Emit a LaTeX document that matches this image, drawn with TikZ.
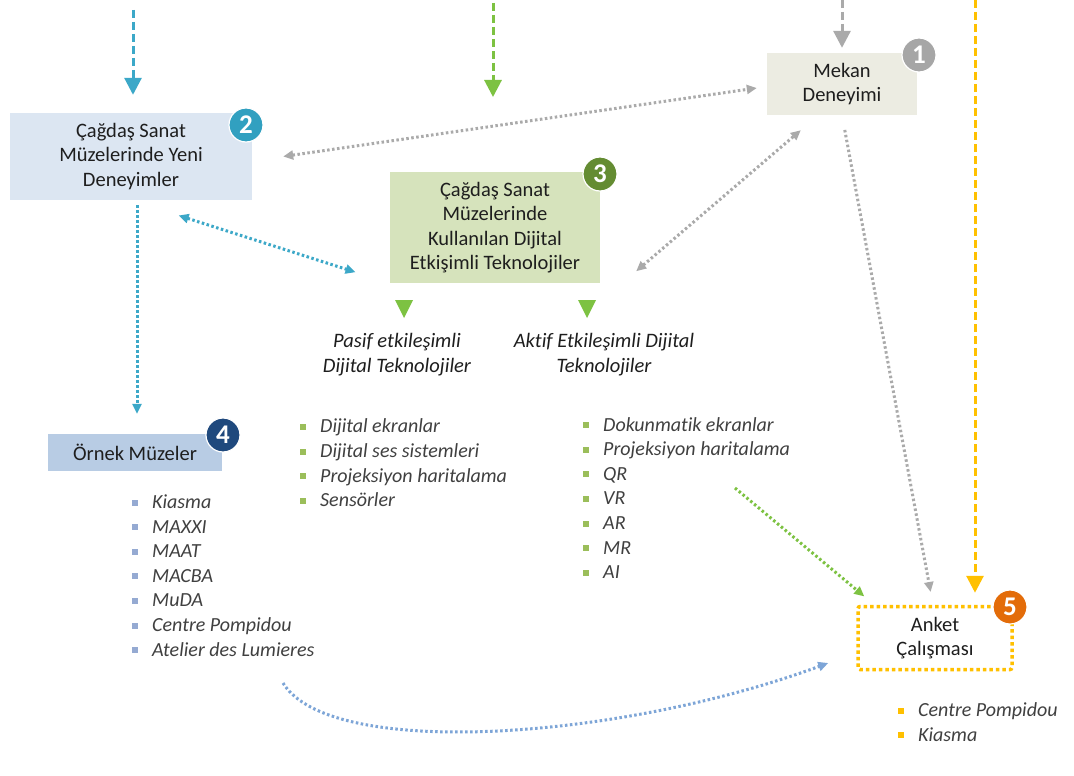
\documentclass[tikz,border=0pt]{standalone}
\usepackage{fontspec}
\setmainfont{Carlito}[Ligatures=NoCommon]
\usetikzlibrary{positioning,arrows.meta,calc}

\definecolor{txtdark}{RGB}{30,30,30}
\definecolor{txtgrey}{RGB}{64,64,64}
\definecolor{tealc}{RGB}{60,168,200}
\definecolor{greenc}{RGB}{125,194,66}
\definecolor{greyc}{RGB}{170,170,170}
\definecolor{yellowc}{RGB}{255,192,0}
\definecolor{bluec}{RGB}{125,165,215}
\definecolor{fillmekan}{RGB}{236,236,226}
\definecolor{fillyeni}{RGB}{220,230,242}
\definecolor{filldijital}{RGB}{214,227,188}
\definecolor{fillornek}{RGB}{184,204,228}
\definecolor{badgegrey}{RGB}{166,166,166}
\definecolor{badgeteal}{RGB}{49,160,192}
\definecolor{badgegreen}{RGB}{100,140,50}
\definecolor{badgeblue}{RGB}{31,73,125}
\definecolor{badgeorange}{RGB}{227,108,9}
\definecolor{bltgreen}{RGB}{155,190,90}
\definecolor{bltblue}{RGB}{149,170,210}

\newcommand{\sqb}[1]{\textcolor{#1}{\rule[0.15em]{6pt}{6pt}}\hspace{14pt}}

\begin{document}
\begin{tikzpicture}[x=1pt,y=1pt,yscale=-1,
    box/.style={align=center, inner sep=0pt, text=txtdark, font=\fontsize{20.5}{24.5}\selectfont},
    badge/.style={circle, draw=white, line width=1.2pt, inner sep=0pt, minimum size=34pt, text=white, font=\fontsize{27}{27}\selectfont\bfseries},
    heading/.style={align=center, inner sep=0pt, text=txtdark, font=\fontsize{20.5}{25}\selectfont\itshape},
    itemlist/.style={align=left, inner sep=0pt, anchor=west, text=txtgrey, font=\fontsize{20}{24.6}\selectfont\itshape},
    dasharrow/.style={line width=3pt, dash pattern=on 8pt off 4pt, -{Triangle[length=17pt,width=17pt]}},
    dotarrow/.style={line width=3pt, dash pattern=on 2.5pt off 2.5pt, -{Triangle[length=10pt,width=9pt]}},
    dotboth/.style={line width=3pt, dash pattern=on 2.5pt off 2.5pt, {Triangle[length=10pt,width=9pt]}-{Triangle[length=10pt,width=9pt]}}]
\path[use as bounding box, fill=white] (0,0) rectangle (1074,776);

% Boxes
\node[box, fill=fillmekan, minimum width=150pt, minimum height=62pt] (mekan) at (842,84) {Mekan\\Deneyimi};
\node[box, fill=fillyeni, minimum width=242pt, minimum height=87pt] (yeni) at (131,156.5) {Çağdaş Sanat\\Müzelerinde Yeni\\Deneyimler};
\node[box, fill=filldijital, minimum width=210pt, minimum height=111pt] (dijital) at (495,227.5) {Çağdaş Sanat\\Müzelerinde\\Kullanılan Dijital\\Etkişimli Teknolojiler};
\node[box, fill=fillornek, minimum width=174pt, minimum height=37pt] (ornek) at (135,452.5) {Örnek Müzeler};
\node[box, draw=yellowc, line width=3.5pt, dash pattern=on 3.5pt off 3pt, rounded corners=2pt, minimum width=154pt, minimum height=63pt] (anket) at (935,638) {Anket\\Çalışması};

% Badges
\node[badge, fill=badgegrey] (b1) at (919,55) {1};
\node[badge, fill=badgeteal] (b2) at (246,125) {2};
\node[badge, fill=badgegreen] (b3) at (600,174) {3};
\node[badge, fill=badgeblue] (b4) at (223,435) {4};
\node[badge, fill=badgeorange] (b5) at (1010,607) {5};

% Sub headings
\node[heading] (pasif) at (397,355) {Pasif etkileşimli\\Dijital Teknolojiler};
\node[heading] (aktif) at (604,355) {Aktif Etkileşimli Dijital\\Teknolojiler};
\fill[greenc] (395,300) -- (413,300) -- (404,318) -- cycle;
\fill[greenc] (578,300) -- (596,300) -- (587,318) -- cycle;

% Lists
\node[itemlist] (pasiflist) at (300,463) {\sqb{bltgreen}Dijital ekranlar\\\sqb{bltgreen}Dijital ses sistemleri\\\sqb{bltgreen}Projeksiyon haritalama\\\sqb{bltgreen}Sensörler};
\node[itemlist] (aktiflist) at (583,498) {\sqb{bltgreen}Dokunmatik ekranlar\\\sqb{bltgreen}Projeksiyon haritalama\\\sqb{bltgreen}QR\\\sqb{bltgreen}VR\\\sqb{bltgreen}AR\\\sqb{bltgreen}MR\\\sqb{bltgreen}AI};
\node[itemlist] (ornekl) at (132,575.5) {\sqb{bltblue}Kiasma\\\sqb{bltblue}MAXXI\\\sqb{bltblue}MAAT\\\sqb{bltblue}MACBA\\\sqb{bltblue}MuDA\\\sqb{bltblue}Centre Pompidou\\\sqb{bltblue}Atelier des Lumieres};
\node[itemlist] (anketl) at (898,722) {\sqb{yellowc}Centre Pompidou\\\sqb{yellowc}Kiasma};

% Incoming arrows from above
\coordinate (in1) at (842,0);
\coordinate (in2) at (133,10);
\coordinate (in3) at (493,3);
\coordinate (in3e) at (493,97);
\coordinate (in5) at (975,0);
\draw[dasharrow, greyc] (in1) -- (mekan.north) [shorten >=5pt];
\draw[dasharrow, tealc, shorten >=18pt] (in2) -- (in2 |- yeni.north);
\draw[dasharrow, greenc] (in3) -- (in3e);
\draw[dasharrow, yellowc, shorten >=12pt] (in5) -- (in5 |- anket.north);

% Links
\draw[dotboth, greyc] ([xshift=31pt]yeni.east) -- ([xshift=-10pt,yshift=4pt]mekan.west);
\draw[dotboth, greyc] ([xshift=36pt,yshift=-12pt]dijital.south east) -- ([xshift=34pt,yshift=15pt]mekan.south west);
\draw[dotboth, tealc, shorten <=50pt, shorten >=36pt] (yeni.south) -- (dijital.south west);
\draw[dotarrow, tealc, shorten <=5pt, shorten >=20pt] ([xshift=6pt]yeni.south) -- ([xshift=6pt]yeni.south |- ornek.north);
\draw[dotarrow, greyc, shorten <=15pt, shorten >=13pt] (mekan.south) -- ([xshift=-2pt]anket.north);
\coordinate (gstart) at (735,488);
\draw[dotarrow, greenc, shorten >=13pt] (gstart) -- ([xshift=18pt]anket.north west);
\coordinate (bstart) at (283,683);
\draw[dotarrow, bluec] (bstart) .. controls (330,760) and (620,740) .. ([xshift=-28pt,yshift=25pt]anket.west);

\end{tikzpicture}
\end{document}
